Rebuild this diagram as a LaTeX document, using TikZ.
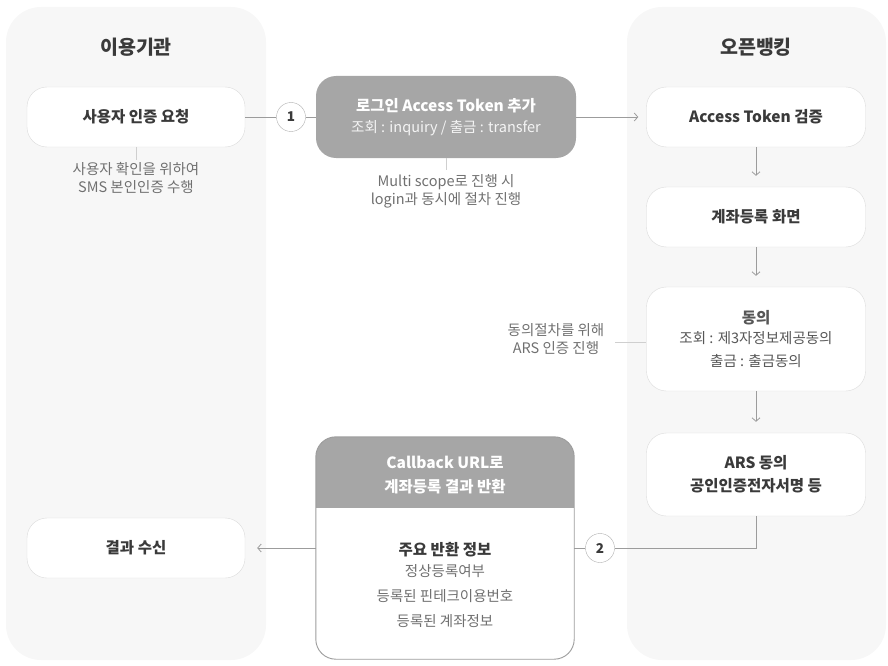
\documentclass[tikz,border=0pt]{standalone}
\usepackage{fontspec}
\setmainfont{Noto Sans CJK KR}
\usetikzlibrary{arrows.meta,positioning}
\definecolor{panelgray}{HTML}{F7F7F7}
\definecolor{boxline}{HTML}{DCDCDC}
\definecolor{headgray}{HTML}{A6A6A6}
\definecolor{txtdark}{HTML}{3A3A3A}
\definecolor{txtnote}{HTML}{707070}
\definecolor{linegray}{HTML}{9C9C9C}
\definecolor{dotgray}{HTML}{CFCFCF}
\newcommand\panelfont{\bfseries\fontsize{19.5}{23}\selectfont}
\newcommand\cardfont{\bfseries\fontsize{15.5}{23}\selectfont}
\newcommand\memofont{\fontsize{14.5}{18}\selectfont}
\tikzset{
	title/.style={font=\panelfont, text=txtdark},
	card/.style={draw=boxline, fill=white, rounded corners=20pt, minimum width=219pt, minimum height=60pt, inner sep=0pt, align=center, font=\cardfont, text=txtdark},
	memo/.style={font=\memofont, text=txtnote, align=center, inner sep=2pt},
	numdot/.style={circle, draw=linegray!80, fill=white, minimum size=29pt, inner sep=0pt, font=\bfseries\fontsize{13.5}{15}\selectfont, text=txtdark},
	flow/.style={draw=linegray, line width=0.8pt, -{Straight Barb[length=3.5pt,width=8pt]}},
	wire/.style={draw=linegray, line width=0.8pt},
	tick/.style={draw=dotgray, line width=0.8pt}
}
\begin{document}
\begin{tikzpicture}[x=1pt,y=-1pt]
	\useasboundingbox (0,0) rectangle (888,666);
	\def\xL{136};
	\def\xR{756};
	\def\xM{446};
	% panels
	\fill[panelgray, rounded corners=35pt] (6,7) rectangle (266,660);
	\fill[panelgray, rounded corners=35pt] (627,7) rectangle (886,660);
	\node[title] (tuser) at (\xL,47) {이용기관};
	\node[title] (tbank) at (\xR,47) {오픈뱅킹};
	% left column
	\node[card, minimum width=218pt] (auth) at (\xL,117) {사용자 인증 요청};
	\node[memo] (smsnote) at (\xL,178) {사용자 확인을 위하여\\SMS 본인인증 수행};
	\coordinate (smstip) at (\xL,160);
	\draw[tick] (auth.south) -- (smstip);
	\node[card, minimum width=218pt] (recv) at (\xL,548) {결과 수신};
	% login token
	\node[draw=none, fill=headgray, rounded corners=20pt, minimum width=260pt, minimum height=82pt, align=center, text=white, font=\fontsize{14.5}{21}\selectfont] (token) at (\xM,117)
		{{\cardfont 로그인 Access Token 추가}\\{\color{white!88!headgray}조회 : inquiry / 출금 : transfer}};
	\node[memo] (multinote) at (\xM,191) {Multi scope로 진행 시\\login과 동시에 절차 진행};
	\coordinate (multitip) at (\xM,170);
	\draw[tick] (token.south) -- (multitip);
	\node[numdot] (one) at (291,117) {1};
	\draw[wire] (auth.east) -- (one.west);
	\draw[wire] (one.east) -- (token.west);
	% right column
	\node[card] (check) at (\xR,117) {Access Token 검증};
	\node[card] (regscr) at (\xR,217) {계좌등록 화면};
	\node[card, minimum height=104pt, font=\memofont, text=txtdark!85] (agree) at (\xR,339)
		{{\cardfont 동의}\\[2pt]조회 : 제3자정보제공동의\\[5pt]출금 : 출금동의};
	\node[card, minimum height=83pt] (ars) at (\xR,474.5) {ARS 동의\\공인인증전자서명 등};
	\draw[flow] (token.east) -- ([xshift=-8pt]check.west);
	\draw[flow] (check.south) -- ([yshift=11pt]regscr.north);
	\draw[flow] (regscr.south) -- ([yshift=11pt]agree.north);
	\draw[flow] (agree.south) -- ([yshift=11pt]ars.north);
	\node[memo] (arsnote) at (556,339) {동의절차를 위해\\ARS 인증 진행};
	\coordinate (arstip) at (615,342);
	\draw[tick] (arstip) -- (agree.west |- arstip);
	% callback result
	\node[draw=none, fill=white, minimum width=258pt, minimum height=222pt] (cb) at (445,548) {};
	\begin{scope}
		\clip[rounded corners=20pt] (cb.south west) rectangle (cb.north east);
		\fill[white] (cb.south west) rectangle (cb.north east);
		\fill[headgray] (cb.north west) rectangle ([yshift=-71pt]cb.north east);
	\end{scope}
	\draw[linegray, line width=0.9pt, rounded corners=20pt] (cb.south west) rectangle (cb.north east);
	\node[align=center, font=\cardfont, text=white] (cbhead) at (445,475) {Callback URL로\\[1pt]계좌등록 결과 반환};
	\node[align=center, font=\memofont, text=txtnote] (cbbody) at (445,585)
		{{\cardfont\color{txtdark}주요 반환 정보}\\[3pt]정상등록여부\\[7pt]등록된 핀테크이용번호\\[7pt]등록된 계좌정보};
	\node[numdot] (two) at (600,548) {2};
	\draw[wire] (ars.south) |- (two.east);
	\draw[wire] (two.west) -- (cb.east);
	\draw[flow] (cb.west) -- ([xshift=12pt]recv.east);
\end{tikzpicture}
\end{document}
